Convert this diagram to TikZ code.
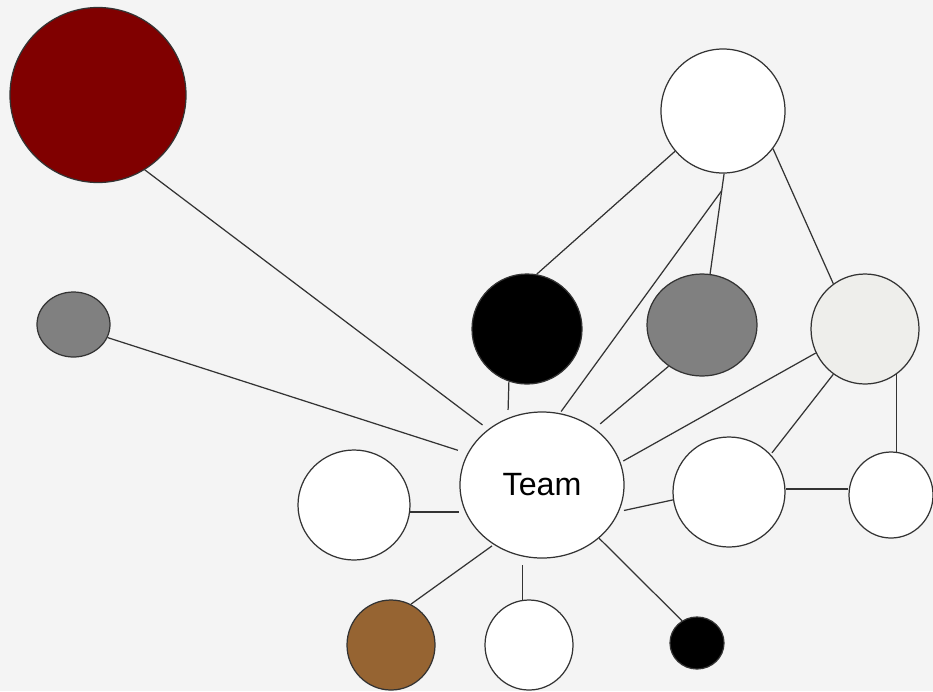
\documentclass[tikz,border=0pt]{standalone}
\usepackage{fontspec}
\setmainfont{Liberation Sans}
\usepackage{tikz}
\usetikzlibrary{shapes.geometric,calc}
\definecolor{bgpanel}{HTML}{F4F4F4}
\definecolor{maroon}{HTML}{800000}
\definecolor{midgray}{HTML}{808080}
\definecolor{speckle}{HTML}{EEEEEB}
\definecolor{tan}{HTML}{966432}

\begin{document}
\begin{tikzpicture}[
        x=0.03cm, y=-0.03cm,
        blob/.style={ellipse, draw=black!80, line width=1.05pt, inner sep=0pt, fill=white},
        link/.style={draw=black!80, line width=1.05pt}
    ]
        \fill[bgpanel] (0,0) rectangle (933,691);
        \useasboundingbox (0,0) rectangle (933,691);

        % nodes
        \node[blob, fill=maroon, minimum width=5.28cm, minimum height=5.25cm] (darkred) at (98,95) {};
        \node[blob, fill=midgray, minimum width=2.19cm, minimum height=1.95cm] (gsmall) at (73.5,324.5) {};
        \node[blob, minimum width=3.72cm, minimum height=3.72cm] (topw) at (723,111) {};
        \node[blob, fill=black, minimum width=3.3cm, minimum height=3.3cm] (blk) at (527,329) {};
        \node[blob, fill=midgray, minimum width=3.3cm, minimum height=3.06cm] (gmid) at (702,325) {};
        \node[blob, fill=speckle, minimum width=3.24cm, minimum height=3.3cm] (tex) at (865,329) {};
        \node[blob, minimum width=4.92cm, minimum height=4.38cm, font=\fontsize{27.5}{32}\selectfont] (team) at (542,485) {Team};
        \node[blob, minimum width=3.36cm, minimum height=3.3cm] (leftw) at (354,505) {};
        \node[blob, minimum width=3.36cm, minimum height=3.3cm] (rightw) at (729,492) {};
        \node[blob, minimum width=2.52cm, minimum height=2.58cm] (farw) at (891,495) {};
        \node[blob, fill=tan, minimum width=2.64cm, minimum height=2.7cm] (brown) at (391,645) {};
        \node[blob, minimum width=2.64cm, minimum height=2.7cm] (botw) at (529,645) {};
        \node[blob, fill=black, minimum width=1.62cm, minimum height=1.56cm] (sblk) at (697,643) {};

        \coordinate (fork) at ($(topw.-89)!0.17!(gmid.81)$);

        % links
        \draw[link, shorten >=0.21cm] (darkred.-58) -- (team.134);
        \draw[link, shorten >=0.3cm] (gsmall.-21) -- (team.157);
        \draw[link] (topw.-140) -- (blk.80);
        \draw[link, shorten >=0.06cm] (fork) -- (team.76);
        \draw[link] (topw.-89) -- (gmid.81);
        \draw[link] (topw.-37) -- (tex.125);
        \draw[link, shorten >=0.24cm] (blk.-109) -- (team.117);
        \draw[link, shorten >=0.21cm] (gmid.-129) -- (team.47);
        \draw[link, shorten >=0.09cm] (tex.-154) -- (team.16);
        \draw[link, shorten >=0.06cm] (tex.-125) -- (rightw.42);
        \draw[link] (tex.-55) -- (tex.-55 |- farw.80);
        \draw[link] (leftw.-7) -- (leftw.-7 -| team.west);
        \draw[link, shorten <=0.15cm] (team.-19) -- (rightw.-172);
        \draw[link] (rightw.3) -- (rightw.3 -| farw.west);
        \draw[link, shorten <=0.06cm] (team.-129) -- (brown.64);
        \draw[link, shorten >=0.18cm] (botw.98) -- (botw.98 |- team.south);
        \draw[link] (team.-43) -- (sblk.124);
    \end{tikzpicture}
\end{document}
